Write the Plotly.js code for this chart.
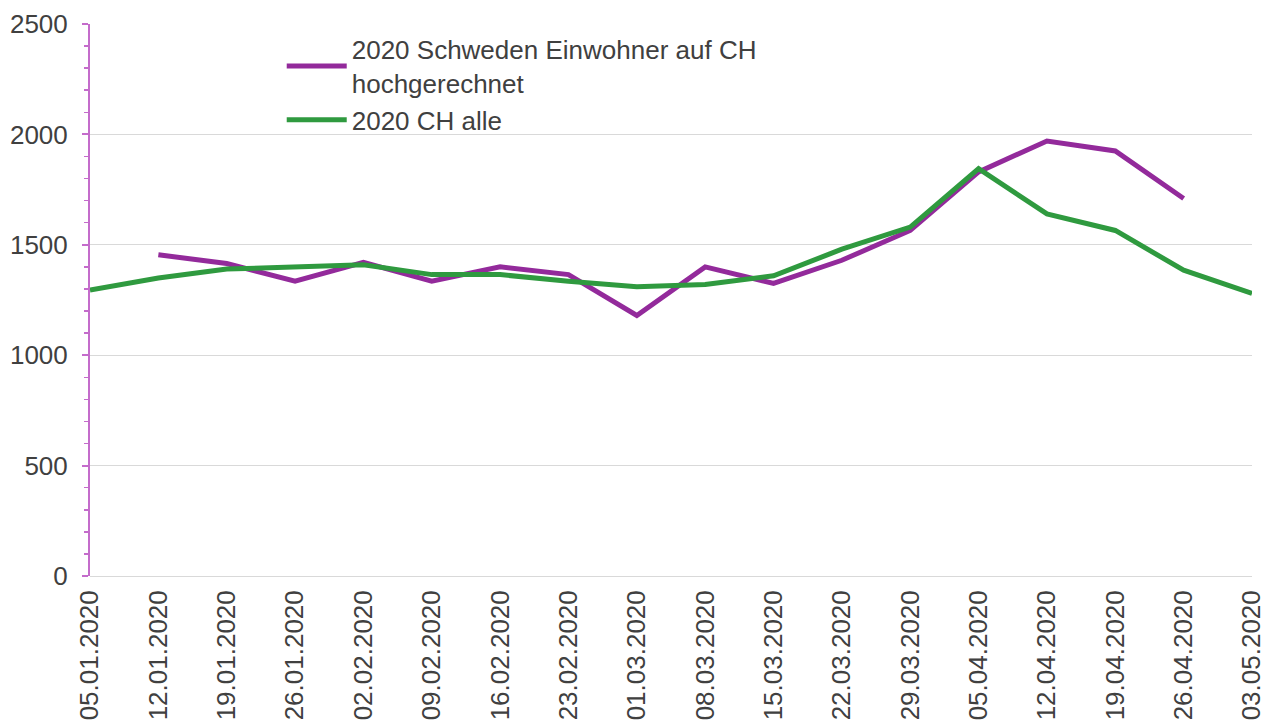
<!DOCTYPE html>
<html>
<head>
<meta charset="utf-8">
<script src="https://cdn.plot.ly/plotly-3.0.1.min.js"></script>
<style>html,body{margin:0;padding:0;background:#fff;}#chart{width:1270px;height:722px;}</style>
</head>
<body>
<div id="chart"></div>
<script>
const categories = ["05.01.2020","12.01.2020","19.01.2020","26.01.2020","02.02.2020","09.02.2020","16.02.2020","23.02.2020","01.03.2020","08.03.2020","15.03.2020","22.03.2020","29.03.2020","05.04.2020","12.04.2020","19.04.2020","26.04.2020","03.05.2020"];
const schwedenValues = [null,1455,1415,1335,1420,1335,1400,1365,1180,1400,1325,1430,1565,1830,1970,1925,1710,null];
const chAlleValues = [1295,1350,1390,1400,1410,1365,1365,1335,1310,1320,1360,1480,1580,1845,1640,1565,1385,1280];
const seriesNames = ["2020 Schweden Einwohner auf CH<br>hochgerechnet","2020 CH alle"];
const yTicks = [0,500,1000,1500,2000,2500];

const font = "Liberation Sans, Arial, sans-serif";
const traces = [
  {x: categories, y: schwedenValues, name: seriesNames[0], type: "scatter", mode: "lines",
   line: {color: "#932a9b", width: 5}, connectgaps: false},
  {x: categories, y: chAlleValues, name: seriesNames[1], type: "scatter", mode: "lines",
   line: {color: "#2f9a3f", width: 5}}
];
const layout = {
  width: 1270, height: 722,
  margin: {l: 90, r: 18, t: 24, b: 146},
  paper_bgcolor: "#fff", plot_bgcolor: "#fff",
  font: {family: font, size: 26, color: "#404040"},
  showlegend: true,
  legend: {x: 0.165, y: 0.997, xanchor: "left", yanchor: "top", bgcolor: "rgba(0,0,0,0)",
           font: {family: font, size: 26, color: "#404040"}, tracegroupgap: 11, itemwidth: 60},
  xaxis: {type: "category", range: [0, categories.length - 1], showgrid: false, zeroline: false,
          showline: false, ticks: "", tickangle: -90, tickfont: {size: 26, color: "#404040"},
          ticklabelstandoff: 8},
  yaxis: {range: [0, 2500], tickvals: yTicks, showgrid: true, gridcolor: "#d9d9d9", gridwidth: 1,
          zeroline: true, zerolinecolor: "#d9d9d9", zerolinewidth: 1,
          showline: true, linecolor: "#c46ccb", linewidth: 2,
          ticks: "outside", ticklen: 6, tickcolor: "#c46ccb", tickwidth: 2,
          minor: {dtick: 100, ticks: "outside", ticklen: 4, tickcolor: "#c46ccb", tickwidth: 1.5, showgrid: false},
          tickfont: {size: 26, color: "#404040"}, ticklabelstandoff: 9}
};
Plotly.newPlot("chart", traces, layout, {staticPlot: true, displayModeBar: false});
</script>
</body>
</html>
